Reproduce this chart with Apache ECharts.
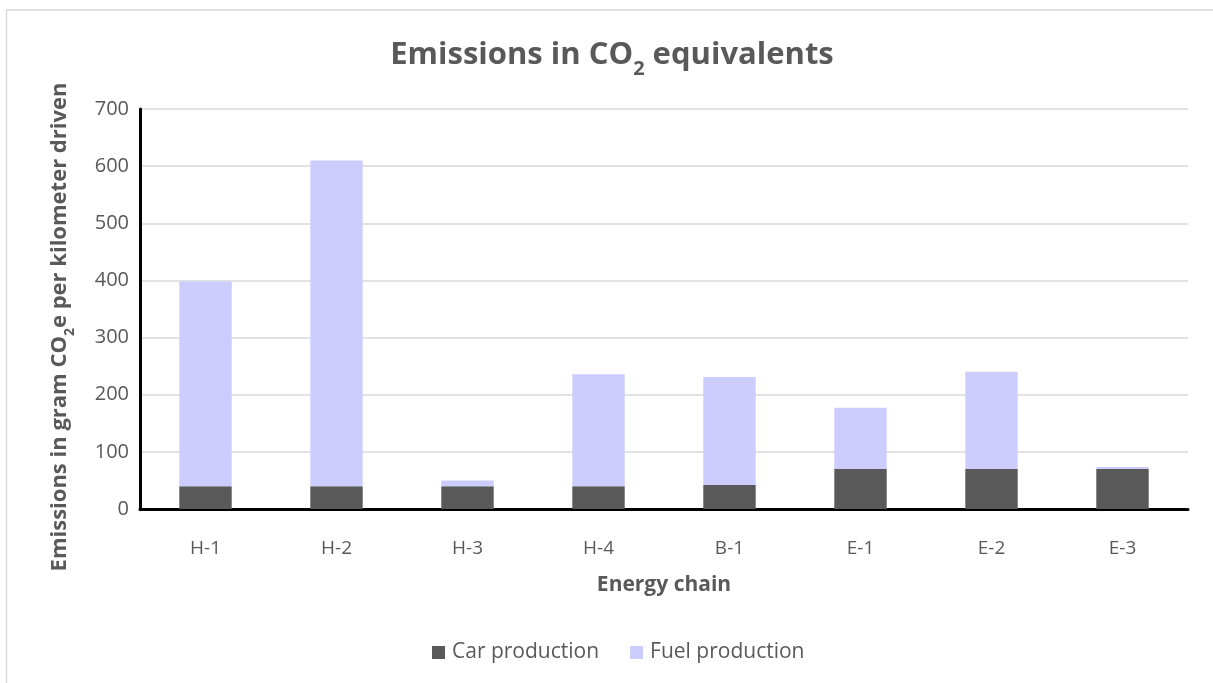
<!DOCTYPE html>
<html>
<head>
<meta charset="utf-8">
<script src="https://cdn.jsdelivr.net/npm/echarts@6/dist/echarts.min.js"></script>
<style>
  html, body { margin: 0; padding: 0; background: #ffffff; }
  #chart { width: 1213px; height: 683px; }
</style>
</head>
<body>
<div id="chart"></div>
<script>
// Energy chains on the x axis
const categories = ['H-1', 'H-2', 'H-3', 'H-4', 'B-1', 'E-1', 'E-2', 'E-3'];
// Emissions, gram CO2e per kilometer driven
const carProduction = [40, 40, 40, 40, 42, 70, 70, 70];
const fuelProduction = [358, 570, 10, 196, 189, 107, 170, 3.5];
const seriesNames = ['Car production', 'Fuel production'];
const yTicks = [0, 100, 200, 300, 400, 500, 600, 700];

const FONT = '"Open Sans", sans-serif';
const GREY = '#595959';

const chart = echarts.init(document.getElementById('chart'), null, { renderer: 'canvas' });

chart.setOption({
  backgroundColor: '#ffffff',
  animation: false,
  graphic: [
    {
      // chart area frame
      type: 'rect',
      shape: { x: 6.5, y: 10, width: 1300, height: 800 },
      style: { fill: 'none', stroke: '#d9d9d9', lineWidth: 1.5 },
      silent: true,
      z: -1
    },
    {
      // value axis title, rotated
      type: 'text',
      x: 60,
      y: 327,
      rotation: Math.PI / 2,
      style: {
        text: '{m|Emissions in gram CO}{s|2}{m|e per kilometer driven}',
        align: 'center',
        verticalAlign: 'middle',
        rich: {
          m: { fontFamily: FONT, fontWeight: 'bold', fontSize: 22, fill: GREY, verticalAlign: 'bottom' },
          s: { fontFamily: FONT, fontWeight: 'bold', fontSize: 14, fill: GREY, padding: [0, 0, -6, 0], verticalAlign: 'bottom' }
        }
      },
      silent: true
    }
  ],
  title: {
    text: '{m|Emissions in CO}{s|2}{m| equivalents}',
    left: 607,
    top: 35,
    textAlign: 'center',
    textStyle: {
      rich: {
        m: { fontFamily: FONT, fontWeight: 'bold', fontSize: 31, color: GREY, verticalAlign: 'bottom' },
        s: { fontFamily: FONT, fontWeight: 'bold', fontSize: 20, color: GREY, padding: [0, 0, -8, 0], verticalAlign: 'bottom' }
      }
    }
  },
  legend: {
    data: seriesNames,
    left: 427,
    top: 637,
    itemWidth: 13,
    itemHeight: 13,
    itemGap: 31,
    icon: 'rect',
    textStyle: { fontFamily: FONT, fontSize: 21, color: GREY, padding: [0, 0, 0, 2] }
  },
  grid: { left: 140, right: 25, top: 109, bottom: 174, containLabel: false },
  xAxis: {
    type: 'category',
    data: categories,
    name: 'Energy chain',
    nameLocation: 'middle',
    nameGap: 66,
    nameTextStyle: { fontFamily: FONT, fontWeight: 'bold', fontSize: 21, color: GREY },
    axisLine: { lineStyle: { color: '#000000', width: 3 } },
    axisTick: { show: false },
    axisLabel: { fontFamily: FONT, fontSize: 19, color: GREY, margin: 30 }
  },
  yAxis: {
    type: 'value',
    min: yTicks[0],
    max: yTicks[yTicks.length - 1],
    interval: 100,
    axisLine: { show: true, lineStyle: { color: '#000000', width: 3 } },
    axisTick: { show: false },
    axisLabel: { fontFamily: FONT, fontSize: 20, color: GREY, margin: 11 },
    splitLine: { lineStyle: { color: '#d9d9d9', width: 1.5 } }
  },
  series: [
    {
      name: seriesNames[0],
      type: 'bar',
      stack: 'total',
      data: carProduction,
      barCategoryGap: '60%',
      itemStyle: { color: '#595959' }
    },
    {
      name: seriesNames[1],
      type: 'bar',
      stack: 'total',
      data: fuelProduction,
      barCategoryGap: '60%',
      itemStyle: { color: '#ccccff' }
    }
  ]
});
</script>
</body>
</html>
